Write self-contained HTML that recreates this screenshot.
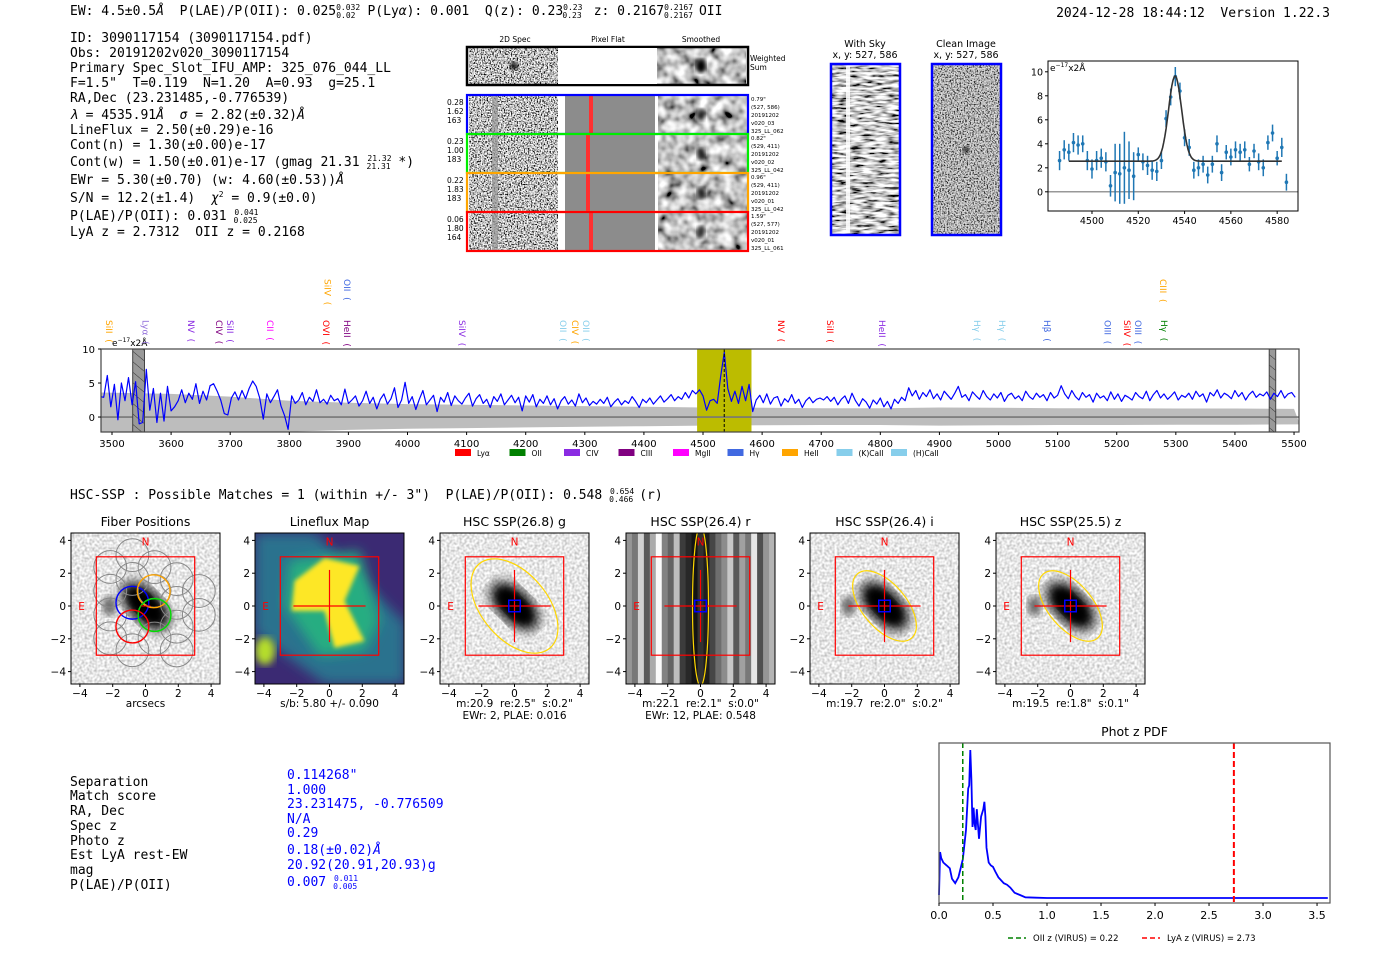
<!DOCTYPE html>
<html><head><meta charset="utf-8"><title>HETDEX detection report</title>
<style>
html,body{margin:0;padding:0;background:#fff;}
svg{display:block;}
text{white-space:pre;}
.mono{font-family:"DejaVu Sans Mono","Liberation Mono",monospace;font-size:13px;fill:#000;}
.sans{font-family:"DejaVu Sans","Liberation Sans",sans-serif;}
.blue{fill:#0000ff;}
</style></head>
<body>
<svg id="root" width="1400" height="953" viewBox="0 0 1400 953" xmlns="http://www.w3.org/2000/svg" xml:space="preserve">
<defs>
<filter id="nz" x="0" y="0" width="100%" height="100%"><feTurbulence type="fractalNoise" baseFrequency="0.7" numOctaves="2" seed="3"/><feColorMatrix type="matrix" values="1 0 0 0 0 1 0 0 0 0 1 0 0 0 0 0 0 0 0 1"/><feComponentTransfer><feFuncR type="linear" slope="3.2" intercept="-1.05"/><feFuncG type="linear" slope="3.2" intercept="-1.05"/><feFuncB type="linear" slope="3.2" intercept="-1.05"/><feFuncA type="linear" slope="0" intercept="1"/></feComponentTransfer></filter>
<filter id="nzs" x="0" y="0" width="100%" height="100%"><feTurbulence type="fractalNoise" baseFrequency="0.09" numOctaves="2" seed="7"/><feColorMatrix type="matrix" values="1 0 0 0 0 1 0 0 0 0 1 0 0 0 0 0 0 0 0 1"/><feComponentTransfer><feFuncR type="linear" slope="1.8" intercept="-0.35"/><feFuncG type="linear" slope="1.8" intercept="-0.35"/><feFuncB type="linear" slope="1.8" intercept="-0.35"/><feFuncA type="linear" slope="0" intercept="1"/></feComponentTransfer></filter>
<filter id="nzsky" x="0" y="0" width="100%" height="100%"><feTurbulence type="fractalNoise" baseFrequency="0.08 0.4" numOctaves="2" seed="5"/><feColorMatrix type="matrix" values="1 0 0 0 0 1 0 0 0 0 1 0 0 0 0 0 0 0 0 1"/><feComponentTransfer><feFuncR type="linear" slope="2.6" intercept="-0.7"/><feFuncG type="linear" slope="2.6" intercept="-0.7"/><feFuncB type="linear" slope="2.6" intercept="-0.7"/><feFuncA type="linear" slope="0" intercept="1"/></feComponentTransfer></filter>
<filter id="nzl" x="0" y="0" width="100%" height="100%"><feTurbulence type="fractalNoise" baseFrequency="0.4" numOctaves="1" seed="9"/><feColorMatrix type="matrix" values="1 0 0 0 0 1 0 0 0 0 1 0 0 0 0 0 0 0 0 1"/><feComponentTransfer><feFuncR type="linear" slope="1.0" intercept="0.3"/><feFuncG type="linear" slope="1.0" intercept="0.3"/><feFuncB type="linear" slope="1.0" intercept="0.3"/><feFuncA type="linear" slope="0" intercept="1"/></feComponentTransfer></filter>
<filter id="bl6"><feGaussianBlur stdDeviation="6"/></filter>
<filter id="bl4"><feGaussianBlur stdDeviation="4"/></filter>
<filter id="bl2"><feGaussianBlur stdDeviation="2"/></filter>
<pattern id="hatch" width="8" height="8" patternUnits="userSpaceOnUse" patternTransform="rotate(-50)"><rect width="8" height="8" fill="#999"/><line x1="0" y1="0" x2="0" y2="8" stroke="#333" stroke-width="1"/></pattern>
</defs>

<text class="mono" x="70" y="15">EW: 4.5±0.5<tspan font-style="italic">Å</tspan>  P(LAE)/P(OII): 0.025<tspan font-size="8" dy="-5">0.032</tspan><tspan font-size="8" dx="-24" dy="8">0.02</tspan><tspan dy="-3" dx="12">P(Ly<tspan font-style="italic">α</tspan>): 0.001  Q(z): 0.23</tspan><tspan font-size="8" dy="-5">0.23</tspan><tspan font-size="8" dx="-20" dy="8">0.23</tspan><tspan dy="-3" dx="12">z: 0.2167</tspan><tspan font-size="8" dy="-5">0.2167</tspan><tspan font-size="8" dx="-29" dy="8">0.2167</tspan><tspan dy="-3" dx="6">OII</tspan></text>
<text class="mono" x="1330" y="17" text-anchor="end">2024-12-28 18:44:12  Version 1.22.3</text>

<g>
<text class="mono" x="70" y="42">ID: 3090117154 (3090117154.pdf)</text>
<text class="mono" x="70" y="57">Obs: 20191202v020_3090117154</text>
<text class="mono" x="70" y="72">Primary Spec_Slot_IFU_AMP: 325_076_044_LL</text>
<text class="mono" x="70" y="87">F=1.5"  T=0.119  N=1.20  A=0.93  g=25.1</text>
<text class="mono" x="70" y="102">RA,Dec (23.231485,-0.776539)</text>
<text class="mono" x="70" y="119"><tspan font-style="italic">λ</tspan> = 4535.91<tspan font-style="italic">Å</tspan>  <tspan font-style="italic">σ</tspan> = 2.82(±0.32)<tspan font-style="italic">Å</tspan></text>
<text class="mono" x="70" y="134">LineFlux = 2.50(±0.29)e-16</text>
<text class="mono" x="70" y="149">Cont(n) = 1.30(±0.00)e-17</text>
<text class="mono" x="70" y="166">Cont(w) = 1.50(±0.01)e-17 (gmag 21.31 <tspan font-size="8" dy="-5">21.32</tspan><tspan font-size="8" dx="-25" dy="8">21.31</tspan><tspan dy="-3"> *)</tspan></text>
<text class="mono" x="70" y="184">EWr = 5.30(±0.70) (w: 4.60(±0.53))<tspan font-style="italic">Å</tspan></text>
<text class="mono" x="70" y="202">S/N = 12.2(±1.4)  <tspan font-style="italic">χ</tspan><tspan font-size="8" dy="-5">2</tspan><tspan dy="5"> = 0.9(±0.0)</tspan></text>
<text class="mono" x="70" y="220">P(LAE)/P(OII): 0.031 <tspan font-size="8" dy="-5">0.041</tspan><tspan font-size="8" dx="-25" dy="8">0.025</tspan></text>
<text class="mono" x="70" y="236">LyA z = 2.7312  OII z = 0.2168</text>
</g>

<g id="spec2d" class="sans">
<text x="515" y="42" font-size="7.5" text-anchor="middle">2D Spec</text>
<text x="608" y="42" font-size="7.5" text-anchor="middle">Pixel Flat</text>
<text x="701" y="42" font-size="7.5" text-anchor="middle">Smoothed</text>
<text x="750" y="61" font-size="7.5">Weighted</text>
<text x="750" y="70" font-size="7.5">Sum</text>
</g>

<g class="sans">
<text x="865" y="47" font-size="9.5" text-anchor="middle">With Sky</text>
<text x="865" y="58" font-size="9.5" text-anchor="middle">x, y: 527, 586</text>
<rect x="831" y="64" width="69" height="171" filter="url(#nzsky)"/>
<rect x="846" y="66" width="4" height="167" fill="#fff" opacity="0.85"/>
<rect x="831" y="64" width="69" height="171" fill="none" stroke="#0000ff" stroke-width="2.5"/>
<text x="966" y="47" font-size="9.5" text-anchor="middle">Clean Image</text>
<text x="966" y="58" font-size="9.5" text-anchor="middle">x, y: 527, 586</text>
<rect x="932" y="64" width="69" height="171" filter="url(#nz)"/>
<rect x="932" y="64" width="69" height="171" fill="#888" opacity="0.25"/>
<circle cx="966" cy="150" r="3" fill="#000" filter="url(#bl2)"/>
<rect x="932" y="64" width="69" height="171" fill="none" stroke="#0000ff" stroke-width="2.5"/>
</g>

<g id="fitplot"></g>
<g id="spectrum"></g>

<text class="mono" x="70" y="499">HSC-SSP : Possible Matches = 1 (within +/- 3")  P(LAE)/P(OII): 0.548 <tspan font-size="8" dy="-5">0.654</tspan><tspan font-size="8" dx="-25" dy="8">0.466</tspan><tspan dy="-3" dx="6">(r)</tspan></text>

<g id="cutouts"></g>

<g>
<text class="mono" x="70" y="786">Separation</text>
<text class="mono" x="70" y="800">Match score</text>
<text class="mono" x="70" y="815">RA, Dec</text>
<text class="mono" x="70" y="830">Spec z</text>
<text class="mono" x="70" y="845">Photo z</text>
<text class="mono" x="70" y="859">Est LyA rest-EW</text>
<text class="mono" x="70" y="874">mag</text>
<text class="mono" x="70" y="889">P(LAE)/P(OII)</text>
<text class="mono blue" x="287" y="779">0.114268"</text>
<text class="mono blue" x="287" y="794">1.000</text>
<text class="mono blue" x="287" y="808">23.231475, -0.776509</text>
<text class="mono blue" x="287" y="823">N/A</text>
<text class="mono blue" x="287" y="837">0.29</text>
<text class="mono blue" x="287" y="854">0.18(±0.02)<tspan font-style="italic">Å</tspan></text>
<text class="mono blue" x="287" y="869">20.92(20.91,20.93)g</text>
<text class="mono blue" x="287" y="886">0.007 <tspan font-size="8" dy="-5">0.011</tspan><tspan font-size="8" dx="-25" dy="8">0.005</tspan></text>
</g>

<g id="photz"></g>
</svg>

<script>
// ===== full spectrum data =====
var specStart = 3480;
var specStep = 6;
var specFlux = [3.0,2.9,6.1,1.5,4.8,-0.4,5.0,2.4,5.8,1.8,5.2,-1.0,-0.8,7.0,
1.0,4.2,-0.8,3.5,-0.6,4.5,0.9,
1.5,2.4,4.0,2.1,3.5,2.6,4.9,2.0,3.8,2.5,4.6,4.9,3.8,2.5,0.5,0.3,
2.8,3.7,2.5,3.9,2.7,4.2,5.3,4.5,2.8,-0.3,3.4,2.1,3.0,4.0,1.6,0.2,-1.8,
3.1,2.0,2.5,3.6,1.8,2.9,2.3,4.0,2.1,2.6,1.9,3.2,2.4,2.7,1.8,4.1,2.0,
2.5,3.1,1.6,2.4,3.8,2.0,2.9,1.2,2.6,3.4,1.9,2.7,4.3,1.4,2.5,5.1,
2.0,3.0,1.1,2.6,3.9,1.8,2.5,3.2,0.8,2.9,2.2,3.6,1.7,3.1,2.4,1.9,2.8,
3.5,1.6,2.7,3.3,2.0,2.6,1.4,3.0,2.3,3.4,1.8,2.5,3.2,2.1,2.9,0.9,3.1,
2.2,3.3,1.5,2.6,2.0,3.1,1.8,2.7,1.2,2.4,3.0,1.9,2.5,1.6,3.4,2.1,2.8,1.7,2.3,1.9,2.6,2.0,2.9,1.5,2.2,2.7,1.8,2.4,2.0,3.0,2.3,1.4,2.6,2.1,2.8,1.9,2.5,3.1,2.2,2.7,3.3,2.4,3.0,2.6,3.6,2.8,3.9,3.4,
4.0,3.1,1.0,2.4,2.6,2.0,6.0,9.5,4.2,2.3,3.8,2.0,4.5,2.4,4.8,
0.8,2.5,3.2,2.1,3.4,1.9,2.8,3.0,1.6,2.7,2.2,3.3,2.0,2.6,1.4,2.4,2.9,2.1,2.6,2.8,2.5,3.0,2.3,2.9,1.8,2.6,3.1,2.0,3.5,2.4,1.6,2.7,2.2,1.3,2.5,1.9,2.8,1.5,2.3,1.2,2.6,2.0,2.9,2.4,
4.3,3.1,3.9,2.6,3.6,3.0,4.0,2.7,3.4,2.5,3.8,3.2,2.6,3.5,4.5,2.9,3.3,2.4,3.7,3.1,
2.6,3.9,3.0,2.5,3.4,2.8,3.6,2.3,3.2,3.5,2.7,3.1,2.4,3.8,3.0,2.6,3.5,2.9,3.3,2.4,
3.6,2.8,3.2,4.6,3.4,2.7,3.9,3.0,2.5,3.6,2.9,3.3,2.2,3.5,2.8,3.1,2.4,3.7,2.6,3.4,
2.3,3.2,2.9,2.5,3.6,3.0,2.7,3.8,2.4,3.3,3.9,2.8,3.4,2.6,3.1,3.7,2.5,3.2,2.9,3.5,
2.6,3.8,3.0,3.4,2.2,3.6,3.1,4.0,2.8,3.5,3.2,2.7,3.9,3.0,3.6,2.5,3.3,3.8,2.9,3.4,
3.1,3.7,2.6,3.5,3.0,3.9,2.8,3.4,3.6,2.9];
var errWave = [3500,3600,3700,3800,3900,4000,4100,4200,4300,4400,4500,4600,4700,4800,4900,5000,5100,5200,5300,5400,5500];
var errVal = [3.6,3.4,3.0,2.4,2.1,1.9,1.8,1.7,1.6,1.5,1.4,1.35,1.3,1.3,1.4,1.35,1.3,1.3,1.25,1.25,1.2];
var specXTicks = [3500,3600,3700,3800,3900,4000,4100,4200,4300,4400,4500,4600,4700,4800,4900,5000,5100,5200,5300,5400,5500];
var specYTicks = [0,5,10];
var lineNames = ["SiII","Lyα","NV","CIV","SiII","CII","OVI","SiIV","HeII","OII","SiIV","OII","CIV","OII","NV","SiII","HeII","Hγ","Hγ","Hβ","OIII","SiIV","OIII","CIII","Hγ"];
var lineWaves = [3495,3557,3634,3681,3700,3767,3862,3865,3898,3898,4092,4263,4283,4302,4632,4715,4803,4964,5006,5082,5184,5217,5236,5278,5280];
var lineColors = ["#ffa500","#9370db","#8a2be2","#800080","#8a2be2","#ff00ff","#ff0000","#ffa500","#800080","#4169e1","#8a2be2","#87ceeb","#ffa500","#87ceeb","#ff0000","#ff0000","#8a2be2","#87ceeb","#87ceeb","#4169e1","#4169e1","#ff0000","#4169e1","#ffa500","#008000"];
var lineRow = [0,0,0,0,0,0,0,1,0,1,0,0,0,0,0,0,0,0,0,0,0,0,0,1,0];
var legendNames = ["Lyα","OII","CIV","CIII","MgII","Hγ","HeII","(K)CaII","(H)CaII"];
var legendColors = ["#ff0000","#008000","#8a2be2","#800080","#ff00ff","#4169e1","#ffa500","#87ceeb","#87ceeb"];
var obsWave = 4535.91;
var fitWindow = [4490,4582];
var maskRegions = [[3535,3555],[5458,5469]];

// ===== line fit data =====
var fitWave = [4486,4488,4490,4492,4494,4496,4498,4500,4502,4504,4506,4508,4510,4512,4514,4516,4518,4520,4522,4524,4526,4528,4530,4532,4534,4536,4538,4540,4542,4544,4546,4548,4550,4552,4554,4556,4558,4560,4562,4564,4566,4568,4570,4572,4574,4576,4578,4580,4582,4584];
var fitFlux = [2.6,3.5,3.3,4.1,3.9,4.0,2.6,1.9,2.6,2.8,2.5,0.5,1.6,1.5,2.0,1.8,1.3,3.1,2.5,2.2,1.8,1.7,2.6,6.1,7.9,9.6,8.4,4.5,3.7,1.8,2.0,2.3,1.4,2.3,4.0,1.6,3.3,2.9,3.5,3.3,3.5,2.3,3.4,2.5,2.0,4.1,4.9,2.8,3.7,0.8];
var fitErr = [0.8,0.8,0.7,0.8,0.8,0.7,0.8,0.8,0.8,0.8,0.8,0.9,2.4,2.5,3.0,2.4,2.0,0.6,0.7,0.8,0.8,0.8,0.7,0.7,0.7,0.8,0.7,0.7,0.7,0.7,0.7,0.7,0.7,0.7,0.7,0.7,0.6,0.7,0.7,0.7,0.7,0.6,0.6,0.7,0.7,0.6,0.7,0.6,0.8,0.7];
var fitCont = 2.55;
var fitAmp = 7.1;
var fitSigma = 2.82;
var fitXTicks = [4500,4520,4540,4560,4580];
var fitYTicks = [0,2,4,6,8,10];

// ===== phot z PDF =====
var pzZ = [0.0,0.01,0.02,0.04,0.07,0.1,0.12,0.15,0.18,0.2,0.22,0.25,0.27,0.28,0.29,0.3,0.31,0.32,0.33,0.34,0.35,0.37,0.39,0.41,0.42,0.43,0.44,0.46,0.48,0.5,0.52,0.55,0.6,0.63,0.66,0.7,0.75,0.8,0.9,1.0,2.0,3.6];
var pzP = [0.02,0.31,0.27,0.24,0.22,0.2,0.13,0.1,0.14,0.2,0.26,0.46,0.74,0.76,1.0,0.8,0.48,0.61,0.5,0.46,0.6,0.4,0.55,0.6,0.65,0.55,0.34,0.24,0.22,0.21,0.18,0.14,0.1,0.09,0.07,0.035,0.02,0.005,0.002,0,0,0];
var pzXTicks = [0.0,0.5,1.0,1.5,2.0,2.5,3.0,3.5];
var pzOII = 0.22;
var pzLyA = 2.73;

// ===== cutout panels =====
var panelTitles = ["Fiber Positions","Lineflux Map","HSC SSP(26.8) g","HSC SSP(26.4) r","HSC SSP(26.4) i","HSC SSP(25.5) z"];
var panelSub1 = ["arcsecs","s/b: 5.80 +/- 0.090","m:20.9  re:2.5\"  s:0.2\"","m:22.1  re:2.1\"  s:0.0\"","m:19.7  re:2.0\"  s:0.2\"","m:19.5  re:1.8\"  s:0.1\""];
var panelSub2 = ["","","EWr: 2, PLAE: 0.016","EWr: 12, PLAE: 0.548","",""];
var cutTicks = [-4,-2,0,2,4];

var NS = "http://www.w3.org/2000/svg";
function mk(tag, attrs, parent){
  var e = document.createElementNS(NS, tag);
  for (var k in attrs) e.setAttribute(k, attrs[k]);
  parent.appendChild(e);
  return e;
}
function tx(str, attrs, parent){ var e = mk("text", attrs, parent); e.textContent = str; return e; }
var FONT = '"DejaVu Sans","Liberation Sans",sans-serif';

(function(){
  var g = document.getElementById("spec2d");
  var rowsY = [95,134,173,212];
  var rowCol = ["#0000ff","#00ee00","#ffa500","#ff0000"];
  var leftTxt = [["0.28","1.62","163"],["0.23","1.00","183"],["0.22","1.83","183"],["0.06","1.80","164"]];
  var rightTxt = [["0.79\"","(527, 586)","20191202","v020_03","325_LL_062"],["0.82\"","(529, 411)","20191202","v020_02","325_LL_042"],["0.96\"","(529, 411)","20191202","v020_01","325_LL_042"],["1.59\"","(527, 577)","20191202","v020_01","325_LL_061"]];
  var redX = [589,586,586,589];
  var w = mk("rect",{x:469,y:48,width:89,height:36,filter:"url(#nz)"},g);
  
  
  var ws = mk("rect",{x:657,y:48,width:89,height:36,filter:"url(#nzs)"},g);
  
  
  mk("circle",{cx:514,cy:66,r:4,fill:"#111",filter:"url(#bl2)"},g);
  mk("ellipse",{cx:701,cy:66,rx:5,ry:7,fill:"#000",filter:"url(#bl2)"},g);
  var wb = mk("rect",{x:467,y:47,width:281,height:38,fill:"none",stroke:"#000","stroke-width":2.5},g);
  
  
  for (var i=0;i<4;i++){
    var y = rowsY[i];
    var a = mk("rect",{x:469,y:y+1,width:89,height:37,filter:"url(#nz)"},g);
    
    
    mk("rect",{x:492,y:y+1,width:6,height:37,fill:"#999",opacity:0.7},g);
    var pf = mk("rect",{x:565,y:y+1,width:90,height:37,fill:"#8c8c8c"},g);
    
    
    mk("rect",{x:redX[i],y:y+1,width:4,height:37,fill:"#ff3030"},g);
    var sm = mk("rect",{x:658,y:y+1,width:89,height:37,filter:"url(#nzs)"},g);
    
    
    mk("ellipse",{cx:701,cy:y+20,rx:4,ry:6,fill:"#000",opacity:0.8,filter:"url(#bl2)"},g);
    var fr = mk("rect",{x:467,y:y,width:281,height:39,fill:"none",stroke:rowCol[i],"stroke-width":2.2},g);
    
    
    for (var j=0;j<3;j++){
      var t = tx(leftTxt[i][j],{x:447,y:y+10+j*9,"font-size":7.5,"font-family":FONT},g);
      
      
    }
    for (var j=0;j<5;j++){
      var t2 = tx(rightTxt[i][j],{x:751,y:y+6+j*8,"font-size":5.5,"font-family":FONT},g);
      
      
    }
  }
  mk("rect",{x:558,y:48,width:99,height:36,fill:"#fff"},g);
})();

(function(){
  var g = document.getElementById("fitplot");
  var L=1048,R=1298,T=61,B=211;
  var x0=4481, x1=4589, y0=-1.6, y1=10.9;
  function X(v){return L+(v-x0)/(x1-x0)*(R-L);}
  function Y(v){return B-(v-y0)/(y1-y0)*(B-T);}
  mk("line",{x1:L,x2:R,y1:Y(0),y2:Y(0),stroke:"#777","stroke-width":1.2},g);
  for (var i=0;i<fitWave.length;i++){
    var eb = mk("line",{x1:X(fitWave[i]),x2:X(fitWave[i]),y1:Y(fitFlux[i]-fitErr[i]),y2:Y(fitFlux[i]+fitErr[i]),stroke:"#1f77b4","stroke-width":1.5},g);
    
    
    var pt = mk("circle",{cx:X(fitWave[i]),cy:Y(fitFlux[i]),r:1.8,fill:"#1f77b4"},g);
    
    
  }
  var d="";
  for (var w=fitWindow[0]; w<=fitWindow[1]; w+=0.5){
    var f = fitCont + fitAmp*Math.exp(-0.5*Math.pow((w-obsWave)/fitSigma,2));
    d += (d?"L":"M")+X(w).toFixed(1)+","+Y(f).toFixed(1);
  }
  var fl = mk("path",{d:d,fill:"none",stroke:"#333","stroke-width":1.6},g);
  
  
  var box = mk("rect",{x:L,y:T,width:R-L,height:B-T,fill:"none",stroke:"#000","stroke-width":1},g);
  
  
  fitXTicks.forEach(function(v){
    mk("line",{x1:X(v),x2:X(v),y1:B,y2:B+3,stroke:"#000"},g);
    var t = tx(String(v),{x:X(v),y:B+13,"text-anchor":"middle","font-size":9.5,"font-family":FONT},g);
    
    
  });
  fitYTicks.forEach(function(v){
    mk("line",{x1:L-3,x2:L,y1:Y(v),y2:Y(v),stroke:"#000"},g);
    var t = tx(String(v),{x:L-5,y:Y(v)+3.5,"text-anchor":"end","font-size":9.5,"font-family":FONT},g);
    
    
  });
  var u = tx("",{x:L+2,y:T+10,"font-size":9,"font-family":FONT},g);
  u.innerHTML = 'e<tspan font-size="6" dy="-4">−17</tspan><tspan dy="4">x2Å</tspan>';
  
  
})();

(function(){
  var g = document.getElementById("spectrum");
  var L=101,R=1299,T=349,B=432;
  var x0=3481.4, x1=5508.4, y0=-2.2, y1=10;
  function X(v){return L+(v-x0)/(x1-x0)*(R-L);}
  function Y(v){return B-(v-y0)/(y1-y0)*(B-T);}
  var clip = mk("clipPath",{id:"specclip"},g);
  mk("rect",{x:L,y:T,width:R-L,height:B-T},clip);
  var inner = mk("g",{"clip-path":"url(#specclip)"},g);
  var up="", lo="";
  for (var i=0;i<errWave.length;i++){
    up += (i?"L":"M")+X(errWave[i]-(i==0?20:0)).toFixed(1)+","+Y(errVal[i]).toFixed(1);
  }
  for (var i=errWave.length-1;i>=0;i--){
    lo += "L"+X(errWave[i]+(i==errWave.length-1?10:0)-(i==0?20:0)).toFixed(1)+","+Y(-errVal[i]*0.9).toFixed(1);
  }
  var band = mk("path",{d:up+lo+"Z",fill:"#bdbdbd"},inner);
  
  
  var fw = mk("rect",{x:X(fitWindow[0]),y:T,width:X(fitWindow[1])-X(fitWindow[0]),height:B-T,fill:"#bcbc00"},inner);
  
  
  mk("line",{x1:L,x2:R,y1:Y(0),y2:Y(0),stroke:"#777","stroke-width":1.6},inner);
  maskRegions.forEach(function(m){
    var r = mk("rect",{x:X(m[0]),y:T,width:X(m[1])-X(m[0]),height:B-T,fill:"url(#hatch)",stroke:"#444","stroke-width":1},inner);
    
    
  });
  var d="";
  for (var i=0;i<specFlux.length;i++){
    d += (i?"L":"M")+X(specStart+i*specStep).toFixed(1)+","+Y(specFlux[i]).toFixed(1);
  }
  var sp = mk("path",{d:d,fill:"none",stroke:"#0000ff","stroke-width":1.2,"stroke-linejoin":"round"},inner);
  
  
  var ol = mk("line",{x1:X(obsWave),x2:X(obsWave),y1:T,y2:B,stroke:"#000","stroke-width":1,"stroke-dasharray":"3,2"},inner);
  
  
  var box = mk("rect",{x:L,y:T,width:R-L,height:B-T,fill:"none",stroke:"#444","stroke-width":1.2},g);
  
  
  specXTicks.forEach(function(v){
    mk("line",{x1:X(v),x2:X(v),y1:B,y2:B+3,stroke:"#000"},g);
    var t = tx(String(v),{x:X(v),y:B+15,"text-anchor":"middle","font-size":10,"font-family":FONT},g);
    
    
  });
  specYTicks.forEach(function(v){
    mk("line",{x1:L-3,x2:L,y1:Y(v),y2:Y(v),stroke:"#000"},g);
    var t = tx(String(v),{x:L-6,y:Y(v)+4,"text-anchor":"end","font-size":10,"font-family":FONT},g);
    
    
  });
  var u = tx("",{x:112,y:346,"font-size":9,"font-family":FONT},g);
  u.innerHTML = 'e<tspan font-size="6" dy="-4">−17</tspan><tspan dy="4">x2Å</tspan>';
  
  
  for (var i=0;i<lineNames.length;i++){
    var xx = X(lineWaves[i])-3;
    var yy = lineRow[i] ? 279 : 320;
    var lb = tx(lineNames[i]+"  (",{x:xx,y:yy,"font-size":9,"font-family":FONT,fill:lineColors[i],transform:"rotate(90 "+xx+" "+yy+")"},g);
    
    
  }
  for (var i=0;i<legendNames.length;i++){
    var lx = 455 + i*54.5;
    var sw = mk("rect",{x:lx,y:449,width:16,height:7,fill:legendColors[i]},g);
    
    
    var lt = tx(legendNames[i],{x:lx+22,y:456,"font-size":7.5,"font-family":FONT},g);
    
    
  }
})();

(function(){
  var g = document.getElementById("photz");
  var L=939,R=1330,T=743,B=903;
  function X(v){return L+v/3.62*(R-L);}
  function Y(v){return 898-v*148;}
  var t0 = tx("Phot z PDF",{x:(L+R)/2,y:736,"text-anchor":"middle","font-size":12.5,"font-family":FONT},g);
  
  
  var d="";
  for (var i=0;i<pzZ.length;i++) d += (i?"L":"M")+X(pzZ[i]).toFixed(1)+","+Y(pzP[i]).toFixed(1);
  var c = mk("path",{d:d,fill:"none",stroke:"#0000ff","stroke-width":1.8},g);
  
  
  var g1 = mk("line",{x1:X(pzOII),x2:X(pzOII),y1:T,y2:B,stroke:"#008000","stroke-width":1.5,"stroke-dasharray":"5,3"},g);
  
  
  var r1 = mk("line",{x1:X(pzLyA),x2:X(pzLyA),y1:T,y2:B,stroke:"#ff0000","stroke-width":2,"stroke-dasharray":"6,3"},g);
  
  
  var box = mk("rect",{x:L,y:T,width:R-L,height:B-T,fill:"none",stroke:"#555","stroke-width":1.2},g);
  
  
  pzXTicks.forEach(function(v){
    mk("line",{x1:X(v),x2:X(v),y1:B,y2:B+3,stroke:"#000"},g);
    var t = tx(v.toFixed(1),{x:X(v),y:B+16,"text-anchor":"middle","font-size":11,"font-family":FONT},g);
    
    
  });
  mk("line",{x1:1008,x2:1026,y1:938,y2:938,stroke:"#008000","stroke-width":1.5,"stroke-dasharray":"5,3"},g);
  var l1 = tx("OII z (VIRUS) = 0.22",{x:1033,y:941,"font-size":8.5,"font-family":FONT},g);
  
  
  mk("line",{x1:1142,x2:1160,y1:938,y2:938,stroke:"#ff0000","stroke-width":1.5,"stroke-dasharray":"5,3"},g);
  var l2 = tx("LyA z (VIRUS) = 2.73",{x:1167,y:941,"font-size":8.5,"font-family":FONT},g);
  
  
})();

(function(){
  var g = document.getElementById("cutouts");
  var lefts = [71,255,440,626,810,996];
  var S = 16.4, W = 149, T = 533, H = 151;
  var stripes = [150,120,210,90,170,250,130,100,190,60,40,20,50,30,70,110,140,200,90,160,120,230,80,150,180];
  for (var p=0;p<6;p++){
    var L = lefts[p], cx = L+74.5, cy = T+73;
    var pg = mk("g",{},g);
    
    
    var cid = "cclip"+p;
    var cp = mk("clipPath",{id:cid},pg);
    mk("rect",{x:L,y:T,width:W,height:H},cp);
    var im = mk("g",{"clip-path":"url(#"+cid+")"},pg);
    if (p==1){
      mk("rect",{x:L,y:T,width:W,height:H,fill:"#3b2a73"},im);
      mk("polygon",{points:[L,T,L+60,T,L+150,T+90,L+150,T+151,L+70,T+151,L,T+100].join(","),fill:"#2c728e",filter:"url(#bl6)"},im);
      mk("polygon",{points:[(cx-40)+","+(cy-45),(cx+30)+","+(cy-55),(cx+50)+","+(cy+15),(cx+35)+","+(cy+45),(cx-10)+","+(cy+50),(cx-45)+","+(cy)].join(" "),fill:"#27ad81",filter:"url(#bl6)"},im);
      mk("polygon",{points:[(cx-35)+","+(cy-25),(cx-5)+","+(cy-48),(cx+30)+","+(cy-40),(cx+15)+","+(cy-5),(cx+35)+","+(cy+35),(cx+5)+","+(cy+42),(cx-5)+","+(cy+5),(cx-38)+","+(cy+5)].join(" "),fill:"#fde725",filter:"url(#bl2)"},im);
      mk("ellipse",{cx:L+10,cy:T+118,rx:10,ry:14,fill:"#b5de2b",filter:"url(#bl4)"},im);
    } else if (p==3){
      for (var s=0;s<stripes.length;s++){
        var v = stripes[s];
        mk("rect",{x:L+s*W/stripes.length,y:T,width:W/stripes.length+0.5,height:H,fill:"rgb("+v+","+v+","+v+")"},im);
      }
      mk("ellipse",{cx:cx,cy:cy,rx:8,ry:80,fill:"none",stroke:"#ffd700","stroke-width":1.2},im);
    } else {
      mk("rect",{x:L,y:T,width:W,height:H,filter:"url(#nzl)"},im);
      var rot = "rotate(45 "+cx+" "+cy+")";
      mk("ellipse",{cx:cx,cy:cy,rx:30,ry:16,fill:"#000",transform:rot,filter:"url(#bl6)"},im);
      mk("ellipse",{cx:cx,cy:cy,rx:19,ry:10,fill:"#000",transform:rot,filter:"url(#bl4)"},im);
      if (p!=2) mk("ellipse",{cx:cx-36,cy:cy,rx:7,ry:10,fill:"#666",filter:"url(#bl4)"},im);
      if (p>=2){
        var ry = p==2?55:42, rx = p==2?33:22;
        mk("ellipse",{cx:cx,cy:cy,rx:rx,ry:ry,fill:"none",stroke:"#ffd700","stroke-width":1.2,transform:"rotate(-40 "+cx+" "+cy+")"},im);
      }
    }
    if (p==0){
      for (var i=-3;i<=3;i++) for (var j=-3;j<=3;j++){
        var fx = -0.8 + i*1.35, fy = 0.2 + i*0.72 + j*1.45;
        if (fx*fx+fy*fy < 3.4*3.4){
          var fc = mk("circle",{cx:cx+fx*S,cy:cy-fy*S,r:1.0*S,fill:"none",stroke:"#888","stroke-width":1},im);
          
          
        }
      }
      var fcol = [["#0000ff",-0.8,0.2],["#ffa500",0.5,0.9],["#00dd00",0.55,-0.55],["#ff0000",-0.8,-1.25]];
      fcol.forEach(function(f){
        var c = mk("circle",{cx:cx+f[1]*S,cy:cy-f[2]*S,r:1.0*S,fill:"none",stroke:f[0],"stroke-width":1.4},im);
        
        
      });
    }
    mk("rect",{x:cx-3*S,y:cy-3*S,width:6*S,height:6*S,fill:"none",stroke:"#ff0000","stroke-width":1.2},pg);
    if (p>0){
      mk("line",{x1:cx,x2:cx,y1:cy-2.2*S,y2:cy+2.2*S,stroke:"#ff0000","stroke-width":1.2},pg);
      mk("line",{x1:cx-2.2*S,x2:cx+2.2*S,y1:cy,y2:cy,stroke:"#ff0000","stroke-width":1.2},pg);
    } else {
      mk("line",{x1:cx-0.3*S,x2:cx+0.3*S,y1:cy,y2:cy,stroke:"#ff0000","stroke-width":1},pg);
    }
    if (p>=2){
      var bq = mk("rect",{x:cx-0.35*S,y:cy-0.35*S,width:0.7*S,height:0.7*S,fill:"none",stroke:"#0000ff","stroke-width":1.5},pg);
      
      
    }
    tx("N",{x:cx,y:cy-3.7*S,"text-anchor":"middle","font-size":10.5,fill:"#ff0000","font-family":FONT},pg);
    tx("E",{x:cx-3.9*S,y:cy+4,"text-anchor":"middle","font-size":10.5,fill:"#ff0000","font-family":FONT},pg);
    var fr = mk("rect",{x:L,y:T,width:W,height:H,fill:"none",stroke:"#000","stroke-width":1},pg);
    
    
    var tt = tx(panelTitles[p],{x:cx,y:526,"text-anchor":"middle","font-size":12.5,"font-family":FONT},pg);
    
    
    cutTicks.forEach(function(v){
      mk("line",{x1:cx+v*S,x2:cx+v*S,y1:T+H,y2:T+H+3,stroke:"#000"},pg);
      var xl = tx((v<0?"−":"")+Math.abs(v),{x:cx+v*S,y:T+H+13,"text-anchor":"middle","font-size":10.5,"font-family":FONT},pg);
      
      
      mk("line",{x1:L-3,x2:L,y1:cy-v*S,y2:cy-v*S,stroke:"#000"},pg);
      var yl = tx((v<0?"−":"")+Math.abs(v),{x:L-5,y:cy-v*S+4,"text-anchor":"end","font-size":10.5,"font-family":FONT},pg);
      
      
    });
    var s1 = tx(panelSub1[p],{x:cx,y:707,"text-anchor":"middle","font-size":10.5,"font-family":FONT},pg);
    
    
    if (panelSub2[p]){
      var s2 = tx(panelSub2[p],{x:cx,y:719,"text-anchor":"middle","font-size":10.5,"font-family":FONT},pg);
      
      
    }
  }
})();
</script>
</body></html>
